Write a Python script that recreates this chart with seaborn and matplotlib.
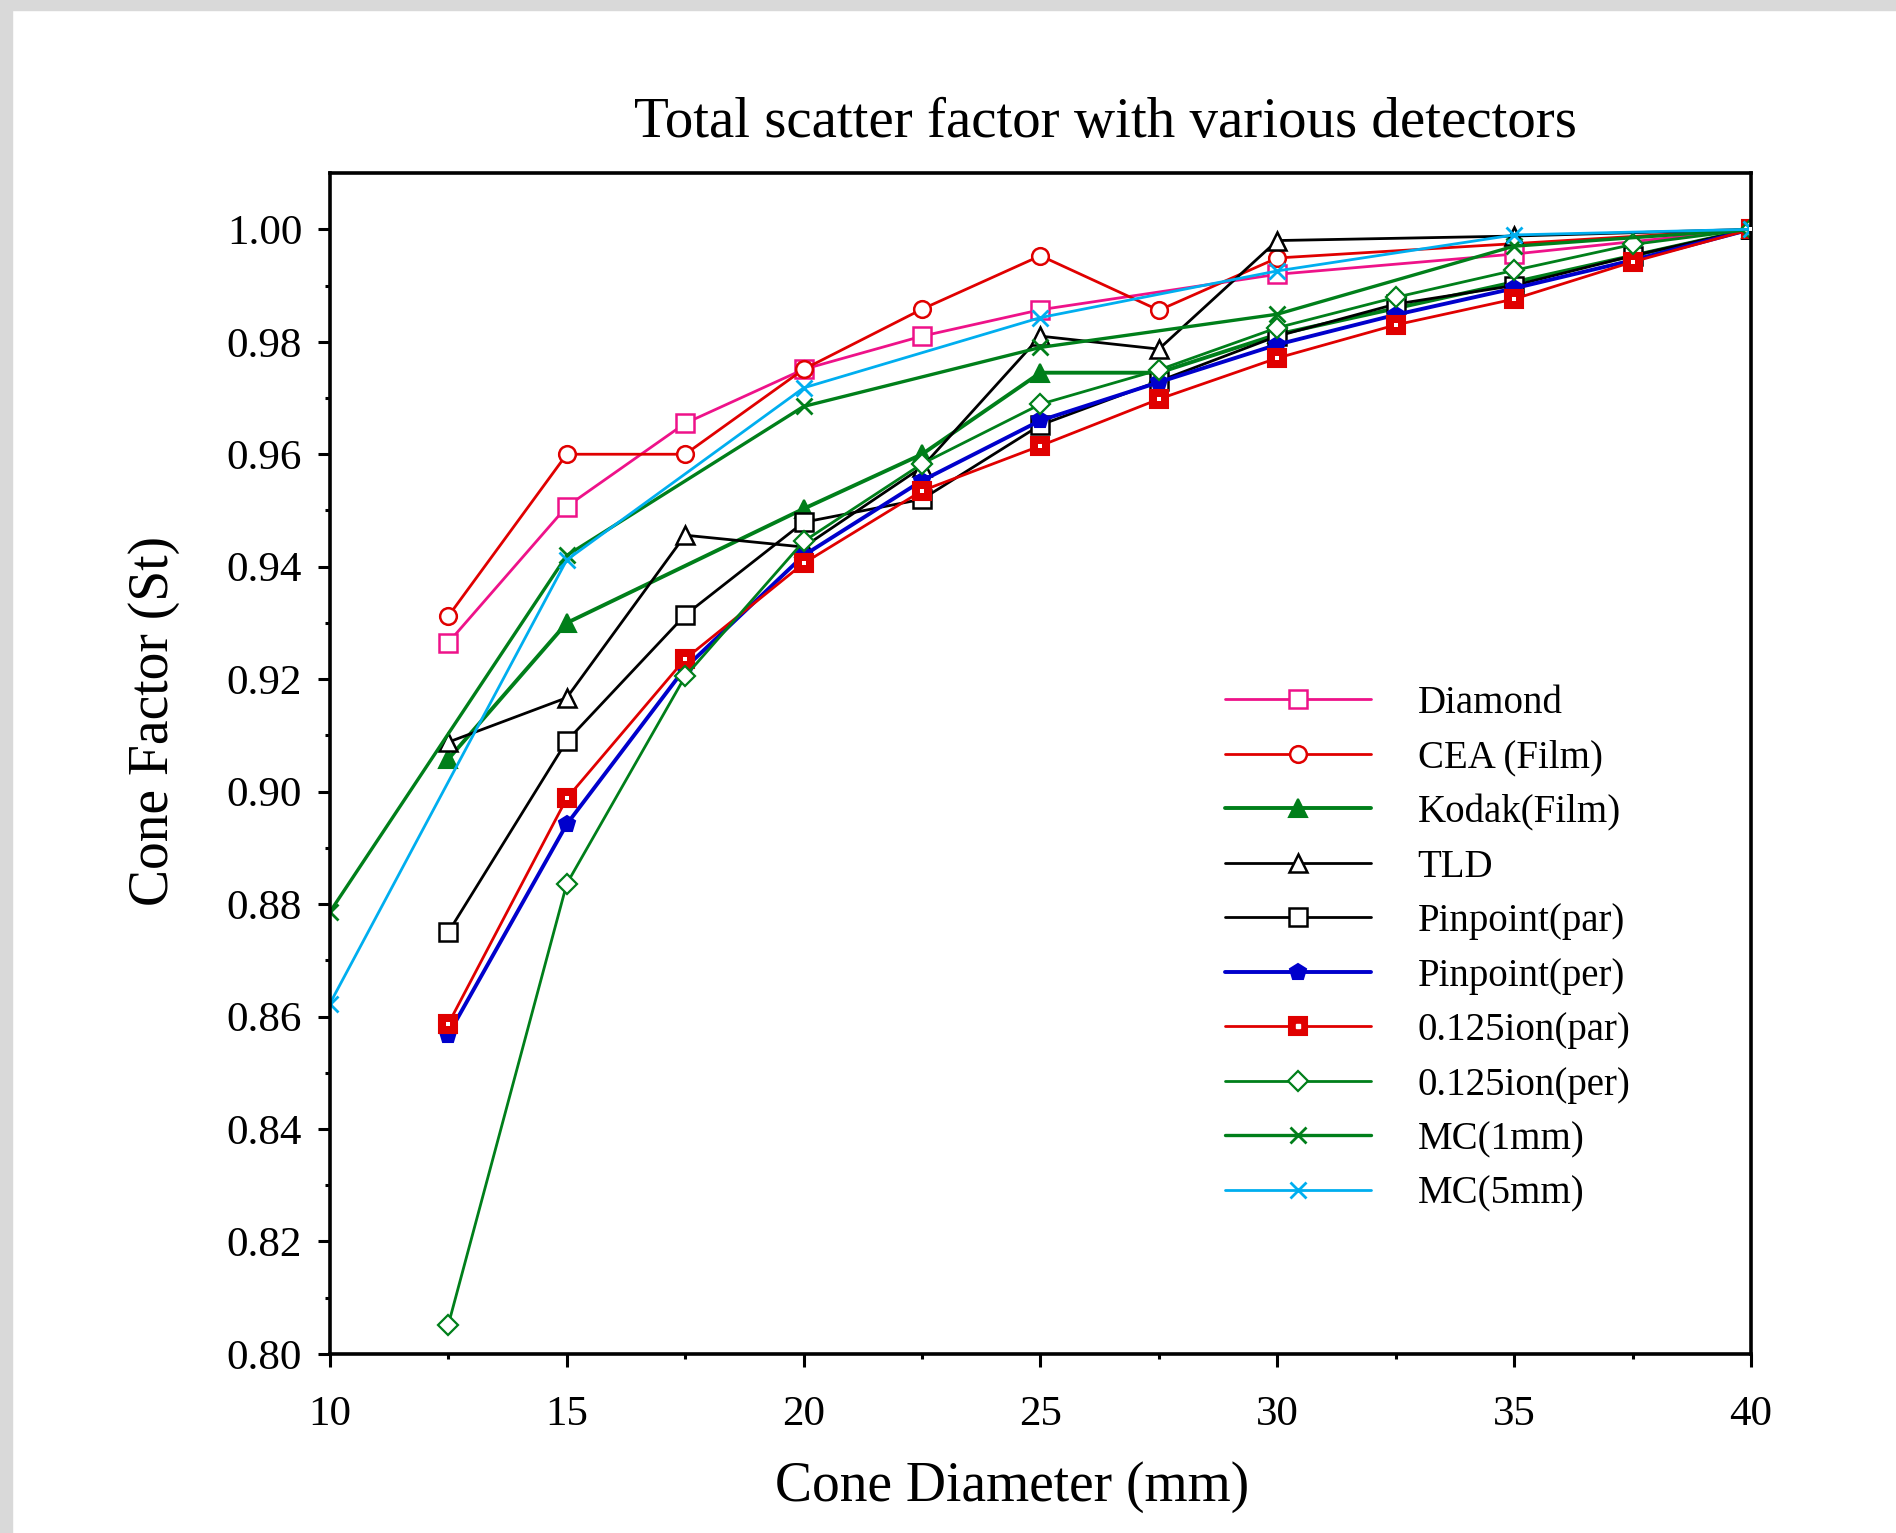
import matplotlib.pyplot as plt
import seaborn as sns
import numpy as np
import pandas as pd
from matplotlib.patches import Rectangle
from matplotlib.legend_handler import HandlerTuple

# Factor de dispersion total por detector

x_full = [12.5, 15, 17.5, 20, 22.5, 25, 27.5, 30, 32.5, 35, 37.5, 40]

x_diamond = [12.5, 15, 17.5, 20, 22.5, 25, 30, 35, 40]
y_diamond = [0.9265, 0.9507, 0.9655, 0.9751, 0.9810, 0.9857, 0.9920, 0.9956, 1.0]

x_cea = [12.5, 15, 17.5, 20, 22.5, 25, 27.5, 30, 40]
y_cea = [0.9312, 0.9600, 0.9600, 0.9751, 0.9858, 0.9953, 0.9856, 0.9949, 1.0]

x_kodak = [12.5, 15, 20, 22.5, 25, 27.5, 30, 35, 40]
y_kodak = [0.9058, 0.9300, 0.9503, 0.9600, 0.9745, 0.9745, 0.9813, 0.9906, 1.0]

x_tld = [12.5, 15, 17.5, 20, 22.5, 25, 27.5, 30, 35, 40]
y_tld = [0.9088, 0.9167, 0.9456, 0.9435, 0.9577, 0.9810, 0.9787, 0.9980, 0.9988, 1.0]

y_pp_par = [0.8750, 0.9090, 0.9314, 0.9479, 0.9520, 0.9652, 0.9730, 0.9810, 0.9867, 0.9900, 0.9953, 1.0]
y_pp_per = [0.8568, 0.8942, 0.9220, 0.9420, 0.9553, 0.9660, 0.9728, 0.9795, 0.9848, 0.9895, 0.9945, 1.0]
y_ion_par = [0.8587, 0.8988, 0.9236, 0.9406, 0.9535, 0.9615, 0.9698, 0.9771, 0.9830, 0.9876, 0.9942, 1.0]
y_ion_per = [0.8052, 0.8836, 0.9205, 0.9445, 0.9583, 0.9689, 0.9750, 0.9825, 0.9879, 0.9927, 0.9973, 1.0]

x_mc = [10, 15, 20, 25, 30, 35, 40]
y_mc1 = [0.8786, 0.9420, 0.9685, 0.9790, 0.9849, 0.9970, 1.0]
y_mc5 = [0.8623, 0.9412, 0.9718, 0.9843, 0.9926, 0.9990, 1.0]

sns.set_style("white")
plt.rcParams['font.family'] = ['Liberation Serif', 'DejaVu Serif']
plt.rcParams['text.color'] = 'black'
plt.rcParams['xtick.color'] = 'black'
plt.rcParams['ytick.color'] = 'black'
plt.rcParams['axes.labelcolor'] = 'black'

rosa = '#ee1289'
rojo = '#e00000'
verde = '#007f1a'
azul = '#0000cc'
cian = '#00aeef'

fig = plt.figure(figsize=(18.96, 15.33), dpi=100)
ax = fig.add_axes([0.174, 0.1168, 0.7495, 0.7703])

lw = 2.0
ms = 13

series = [
    ("Diamond", x_diamond, y_diamond, dict(color=rosa, marker='s', mfc='white', mec=rosa, ms=ms, mew=1.8, lw=lw)),
    ("CEA (Film)", x_cea, y_cea, dict(color=rojo, marker='o', mfc='white', mec=rojo, ms=12, mew=1.8, lw=lw)),
    ("Kodak(Film)", x_kodak, y_kodak, dict(color=verde, marker='^', mfc=verde, mec=verde, ms=ms, mew=1.5, lw=2.8)),
    ("TLD", x_tld, y_tld, dict(color='black', marker='^', mfc='white', mec='black', ms=ms, mew=1.8, lw=lw)),
    ("Pinpoint(par)", x_full, y_pp_par, dict(color='black', marker='s', mfc='white', mec='black', ms=ms, mew=1.8, lw=lw)),
    ("Pinpoint(per)", x_full, y_pp_per, dict(color=azul, marker='p', mfc=azul, mec=azul, ms=12, mew=1.5, lw=2.8)),
    ("0.125ion(par)", x_full, y_ion_par, dict(color=rojo, marker='s', mfc=rojo, mec=rojo, ms=ms, mew=1.5, lw=lw)),
    ("0.125ion(per)", x_full, y_ion_per, dict(color=verde, marker='D', mfc='white', mec=verde, ms=10, mew=1.6, lw=lw)),
    ("MC(1mm)", x_mc, y_mc1, dict(color=verde, marker='x', mec=verde, ms=12, mew=2.0, lw=2.4)),
    ("MC(5mm)", x_mc, y_mc5, dict(color=cian, marker='x', mec=cian, ms=12, mew=2.0, lw=lw)),
]

handles = []
labels = []
for nombre, xs, ys, estilo in series:
    df = pd.DataFrame({"x": xs, "y": ys})
    sns.lineplot(data=df, x="x", y="y", ax=ax, label=nombre, **estilo)
    h = ax.get_lines()[-1]
    if nombre == "0.125ion(par)":
        # punto blanco en el centro del cuadrado
        sns.scatterplot(data=df, x="x", y="y", ax=ax, color='white', marker='s',
                        s=12, linewidth=0, zorder=5, legend=False)
        punto = plt.Line2D([], [], ls='none', marker='s', ms=3.5, mfc='white', mec='white')
        handles.append((h, punto))
    else:
        handles.append(h)
    labels.append(nombre)

ax.set_xlim(10, 40)
ax.set_ylim(0.80, 1.01)
ax.set_xticks(np.arange(10, 41, 5))
ax.set_xticks(np.arange(10, 41, 2.5), minor=True)
ax.set_yticks(np.arange(0.80, 1.001, 0.02))
ax.set_yticks(np.arange(0.80, 1.001, 0.01), minor=True)
ax.set_yticklabels([f"{v:.2f}" for v in np.arange(0.80, 1.001, 0.02)])
ax.set_xticklabels([f"{v:d}" for v in range(10, 41, 5)])
ax.tick_params(which='major', direction='out', length=9, width=2.2, labelsize=31,
               left=True, bottom=True)
ax.tick_params(axis='x', which='major', pad=21)
ax.tick_params(axis='y', which='major', pad=11)
ax.tick_params(which='minor', direction='out', length=3.5, width=2.2, left=True, bottom=True)
for s in ax.spines.values():
    s.set_linewidth(2.6)
    s.set_color('black')
ax.set_xlabel("")
ax.set_ylabel("")

leg = ax.legend(handles, labels, loc='upper left', bbox_to_anchor=(0.6461, 0.5532),
                bbox_transform=fig.transFigure, frameon=False, fontsize=28,
                handlelength=3.75, handletextpad=1.2, labelspacing=0.45,
                borderpad=0, borderaxespad=0,
                handler_map={tuple: HandlerTuple(ndivide=1)})

fig.text(0.583, 0.920, "Total scatter factor with various detectors", fontsize=41,
         ha='center', va='center')
fig.text(0.5338, 0.030, "Cone Diameter (mm)", fontsize=40, ha='center', va='center')
fig.text(0.0812, 0.5297, "Cone Factor (St)", fontsize=40, rotation=90,
         ha='center', va='center')

# borde gris de la captura original
fig.patches.append(Rectangle((0, 1 - 10 / 1533), 1, 10 / 1533, transform=fig.transFigure,
                             color='#d9d9d9', zorder=-1))
fig.patches.append(Rectangle((0, 0), 12 / 1896, 1, transform=fig.transFigure,
                             color='#d9d9d9', zorder=-1))

fig.savefig("out.png", dpi=100)
